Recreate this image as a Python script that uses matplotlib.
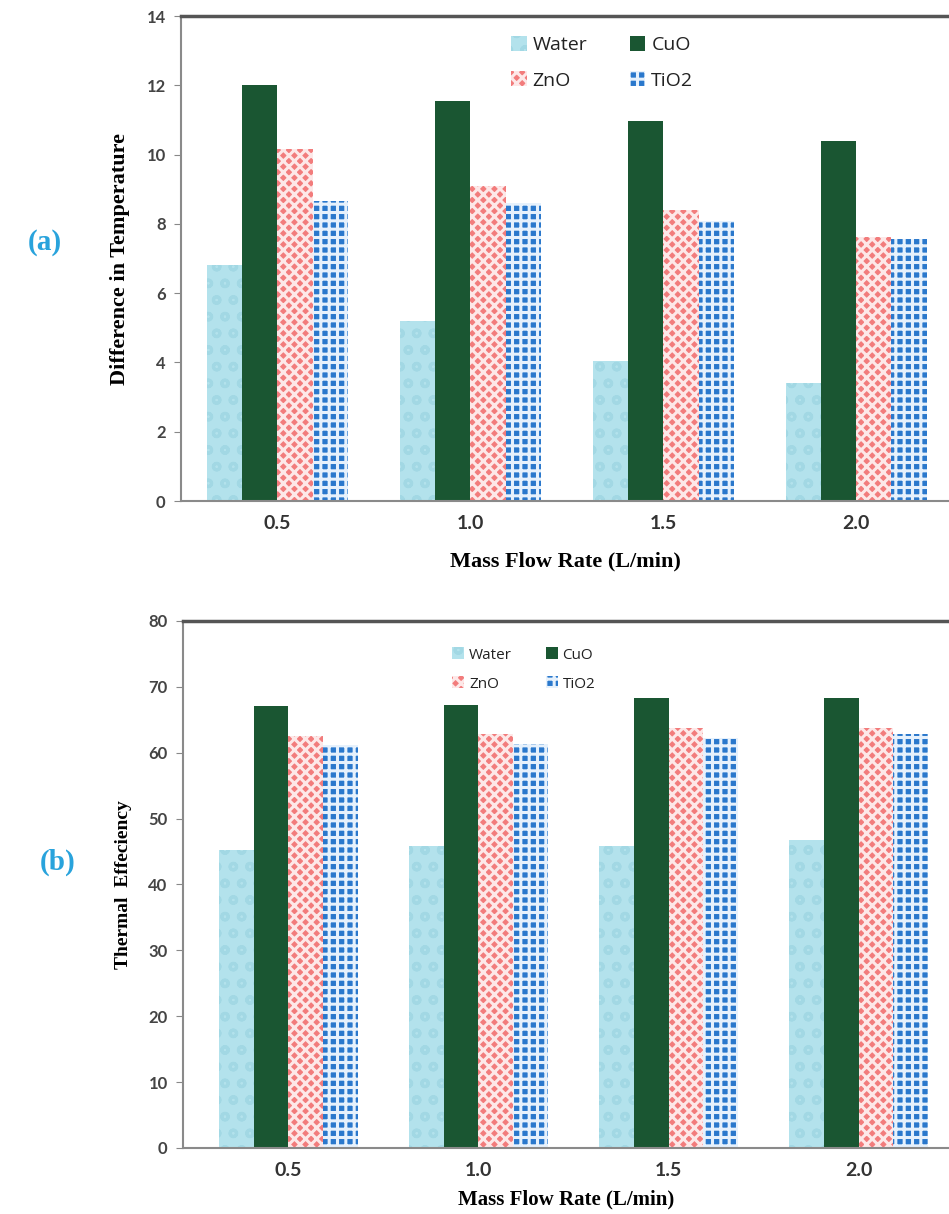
import matplotlib
matplotlib.use('Agg')
import matplotlib.pyplot as plt
import numpy as np

# data
flow_labels = ['0.5', '1.0', '1.5', '2.0']
series = ['Water', 'CuO', 'ZnO', 'TiO2']

dT_water = [6.8, 5.2, 4.05, 3.4]
dT_cuo = [12.0, 11.55, 10.97, 10.4]
dT_zno = [10.15, 9.08, 8.4, 7.62]
dT_tio2 = [8.67, 8.6, 8.08, 7.55]

eff_water = [45.2, 45.8, 45.8, 46.7]
eff_cuo = [67.1, 67.3, 68.3, 68.3]
eff_zno = [62.6, 62.8, 63.7, 63.8]
eff_tio2 = [61.1, 61.3, 62.2, 62.9]

# look of each series (face, hatch colour, hatch)
styles = {
    'Water': ('#b3e2ec', '#a2d8e4', 'o'),
    'CuO': ('#1a5632', '#24673d', ''),
    'ZnO': ('#f27c7c', '#fde8e8', 'xxx'),
    'TiO2': ('#2a78cc', '#e6f1fc', '++'),
}

plt.rcParams['hatch.linewidth'] = 2.2

fig = plt.figure(figsize=(9.49, 12.14), dpi=100)
axa = fig.add_axes([0.1907, 0.5873, 0.8093, 0.3995])
axb = fig.add_axes([0.1928, 0.0544, 0.8072, 0.4341])

tick_font = dict(family='Lato', weight='bold')
label_font = dict(family='Liberation Serif', weight='bold')


def draw(ax, data, ylim, yticks, ylabel, ylabel_size, xlabel_size, xlabel_pad,
         xlim, leg_anchor, leg_size):
    x = np.arange(len(flow_labels))
    w = 0.182
    bars = {}
    for i, name in enumerate(series):
        face, hcol, hatch = styles[name]
        bars[name] = ax.bar(x + (i - 1.5) * w, data[i], w, color=face, edgecolor=hcol,
                            hatch=hatch, linewidth=0, label=name)
    ax.set_xlim(*xlim)
    ax.set_ylim(*ylim)
    ax.set_yticks(yticks)
    ax.set_xticks(x)
    ax.set_xticklabels(flow_labels, fontsize=14, color='#333333', **tick_font)
    for t in ax.get_yticklabels():
        t.set_fontsize(12)
        t.set_color('#444444')
        t.set_fontfamily('Lato')
        t.set_fontweight('bold')
    ax.tick_params(axis='x', length=0, pad=10)
    ax.tick_params(axis='y', length=5, color='#888888', pad=6)
    ax.spines['right'].set_visible(False)
    ax.spines['left'].set_color('#8a8a8a')
    ax.spines['left'].set_linewidth(1.5)
    ax.spines['bottom'].set_color('#8a8a8a')
    ax.spines['bottom'].set_linewidth(1.5)
    ax.spines['top'].set_color('#555555')
    ax.spines['top'].set_linewidth(2.5)
    ax.set_xlabel('Mass Flow Rate (L/min)', fontsize=xlabel_size, labelpad=xlabel_pad,
                  **label_font)
    ax.set_ylabel(ylabel, fontsize=ylabel_size, labelpad=12, **label_font)
    # order so the rows read Water, CuO / ZnO, TiO2
    order = ['Water', 'ZnO', 'CuO', 'TiO2']
    leg = ax.legend([bars[n] for n in order], order, ncol=2, loc='upper left',
                    bbox_to_anchor=leg_anchor,
                    bbox_transform=fig.transFigure, frameon=False,
                    prop=dict(family='Open Sans', size=leg_size),
                    handlelength=0.8, handleheight=0.8, handletextpad=0.3,
                    columnspacing=2.2, labelspacing=0.9)
    for t in leg.get_texts():
        t.set_color('#222222')


draw(axa, [dT_water, dT_cuo, dT_zno, dT_tio2], (0, 14), np.arange(0, 15, 2),
     'Difference in Temperature', 16, 16, 14, (-0.5, 3.48), (0.52, 0.985), 14)
draw(axb, [eff_water, eff_cuo, eff_zno, eff_tio2], (0, 80), np.arange(0, 81, 10),
     'Thermal  Effeciency', 14, 15, 8, (-0.555, 3.476), (0.462, 0.478), 11)

fig.text(45 / 949, 1 - 243 / 1214, '(a)', fontsize=21, color='#29a3dc',
         ha='center', va='center', **label_font)
fig.text(58 / 949, 1 - 862 / 1214, '(b)', fontsize=21, color='#29a3dc',
         ha='center', va='center', **label_font)

fig.savefig('out.png', dpi=100)
